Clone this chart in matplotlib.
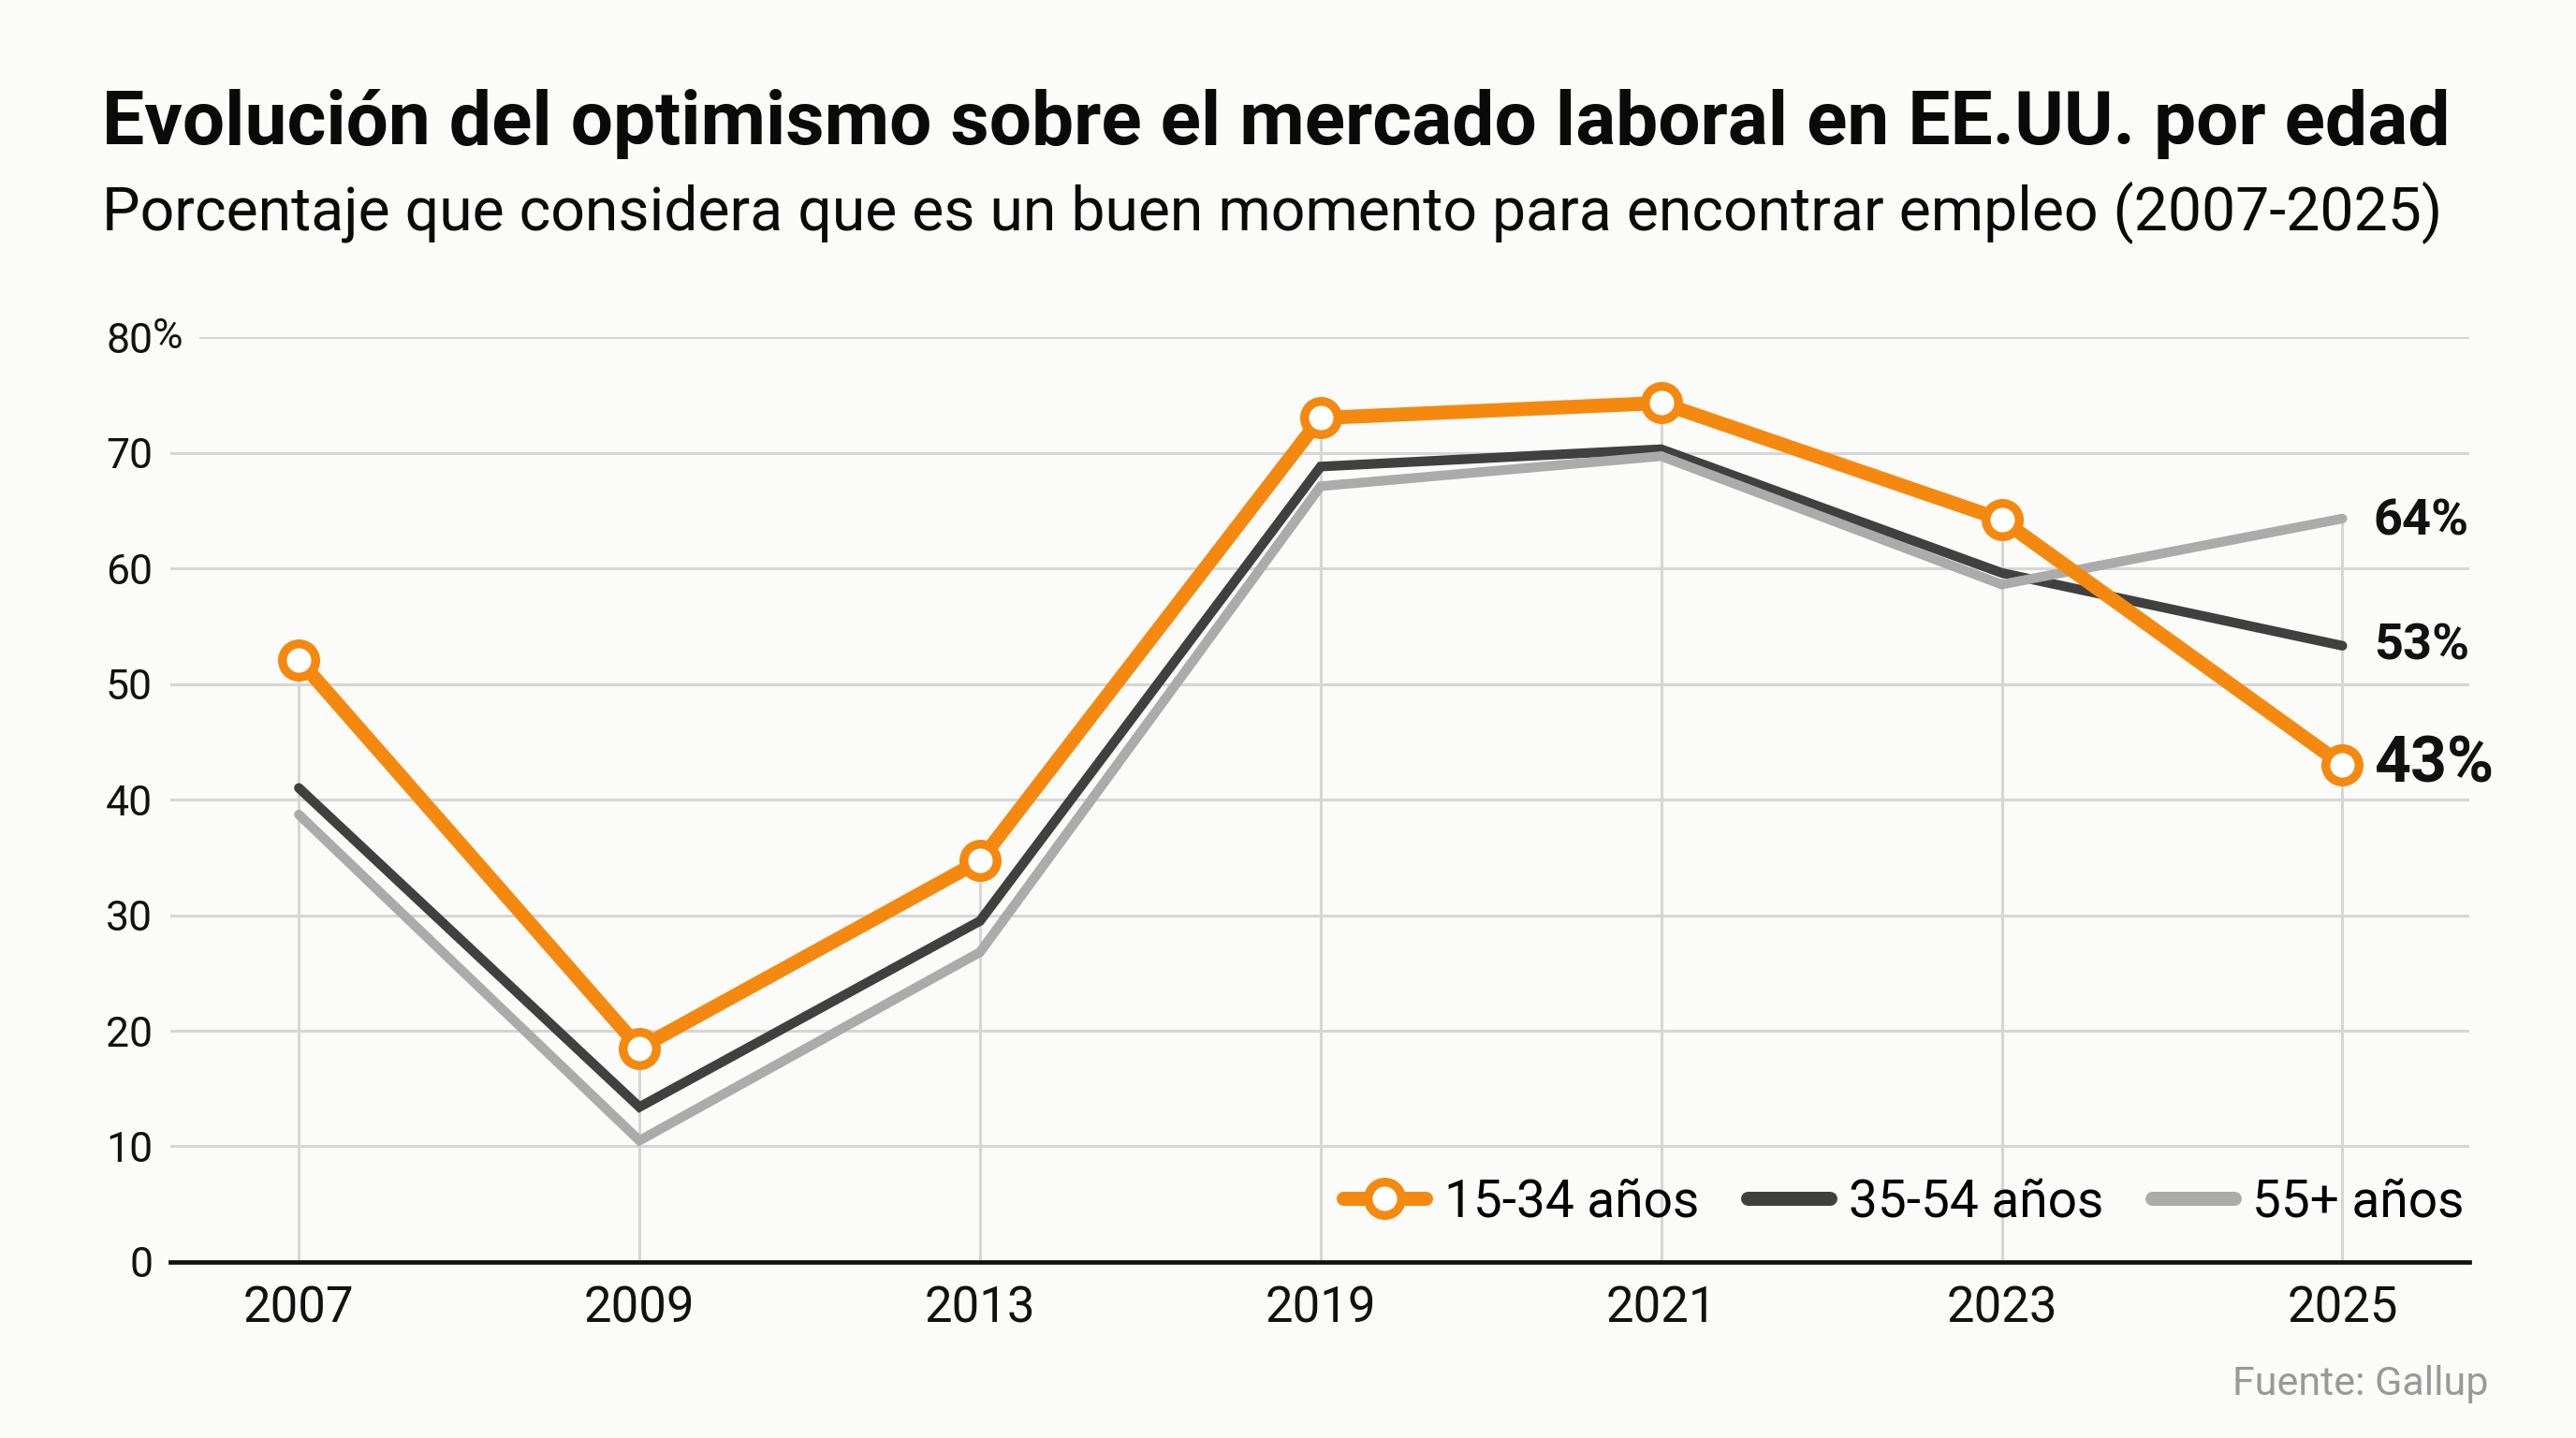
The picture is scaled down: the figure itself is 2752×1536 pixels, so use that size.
import matplotlib
matplotlib.use("Agg")
import matplotlib.pyplot as plt
from matplotlib.lines import Line2D

plt.rcParams['font.family'] = ['Roboto', 'DejaVu Sans']

# datos
years = ["2007", "2009", "2013", "2019", "2021", "2023", "2025"]
young = [52.1, 18.5, 34.7, 73.0, 74.3, 64.2, 43.0]     # 15-34 años
middle = [41.0, 13.4, 29.5, 68.8, 70.3, 59.6, 53.3]    # 35-54 años
older = [38.7, 10.5, 26.8, 67.1, 69.7, 58.6, 64.3]     # 55+ años
end_labels = ["43%", "53%", "64%"]
yticks = [0, 10, 20, 30, 40, 50, 60, 70, 80]

ORANGE = "#f5890f"
DARK = "#404040"
GRAY = "#ababab"
GRID = "#d6d6d6"
BG = "#fbfbf9"

fig = plt.figure(figsize=(13.76, 7.68), dpi=200, facecolor=BG)
ax = fig.add_axes([0.0663, 0.1224, 0.8922, 0.6432], facecolor=BG)

x = list(range(len(years)))

# rejilla horizontal (la de 80 empieza despues de la etiqueta "80%")
for t in yticks[1:]:
    start = 0.013 if t == 80 else 0.0
    ax.axhline(t, xmin=start, xmax=1, color=GRID, lw=1.1, zorder=1)

# lineas verticales hasta el valor mas alto de cada año
tops = [max(a, b, c) for a, b, c in zip(young, middle, older)]
ax.vlines(x, 0, tops, color=GRID, lw=1.1, zorder=1)

ax.plot(x, middle, color=DARK, lw=3.7, solid_capstyle="round",
        solid_joinstyle="miter", zorder=3)
ax.plot(x, older, color=GRAY, lw=3.7, solid_capstyle="round",
        solid_joinstyle="miter", zorder=4)
ax.plot(x, young, color=ORANGE, lw=5.4, solid_capstyle="round",
        solid_joinstyle="round", marker="o", markersize=12.8,
        markerfacecolor="white", markeredgecolor=ORANGE, markeredgewidth=3.4,
        zorder=5, clip_on=False)

ax.set_xlim(-0.376, 6.372)
ax.set_ylim(0, 80)

ax.set_xticks(x)
ax.set_xticklabels(years, fontsize=19, color="#111111")
ax.set_yticks(yticks)
ax.set_yticklabels([str(t) for t in yticks], fontsize=16, color="#111111")
ax.tick_params(axis="both", length=0)
ax.tick_params(axis="x", pad=9)
ax.tick_params(axis="y", pad=7)
# "%" que cuelga detras del 80
ax.annotate("%", (0, 80), xycoords=ax.get_yaxis_transform(),
            xytext=(-7, 0), textcoords="offset points", fontsize=16,
            color="#111111", ha="left", va="center")

for side in ["top", "right", "left"]:
    ax.spines[side].set_visible(False)
ax.spines["bottom"].set_color("#111111")
ax.spines["bottom"].set_linewidth(1.7)
ax.spines["bottom"].set_zorder(6)

# etiquetas finales
ax.annotate(end_labels[0], (x[-1], young[-1]), xytext=(12, 0),
            textcoords="offset points", fontsize=24.5, fontweight="bold",
            ha="left", va="center", color="#111111")
ax.annotate(end_labels[1], (x[-1], middle[-1]), xytext=(12, 0),
            textcoords="offset points", fontsize=19.5, fontweight="bold",
            ha="left", va="center", color="#111111")
ax.annotate(end_labels[2], (x[-1], older[-1]), xytext=(12, -1),
            textcoords="offset points", fontsize=19.5, fontweight="bold",
            ha="left", va="center", color="#111111")

handles = [
    Line2D([], [], color=ORANGE, lw=5.4, solid_capstyle="round", marker="o",
           markersize=12.8, markerfacecolor="white", markeredgecolor=ORANGE,
           markeredgewidth=3.4),
    Line2D([], [], color=DARK, lw=5.4, solid_capstyle="round"),
    Line2D([], [], color=GRAY, lw=5.4, solid_capstyle="round"),
]
leg = ax.legend(handles, ["15-34 años", "35-54 años", "55+ años"],
                loc="lower right", bbox_to_anchor=(1.007, 0.016), ncol=3,
                frameon=False, fontsize=19.8, handlelength=1.6,
                handletextpad=0.35, columnspacing=0.95, borderaxespad=0.0)
leg.set_zorder(7)

fig.text(0.0395, 0.9, "Evolución del optimismo sobre el mercado laboral en EE.UU. por edad",
         fontsize=28.9, fontweight="bold", color="#0a0a0a", ha="left", va="baseline")
fig.text(0.0395, 0.84, "Porcentaje que considera que es un buen momento para encontrar empleo (2007-2025)",
         fontsize=23.2, color="#0a0a0a", ha="left", va="baseline")
fig.text(0.966, 0.03, "Fuente: Gallup", fontsize=15.5, color="#999999",
         ha="right", va="baseline")

fig.savefig("out.png", dpi=200, facecolor=BG)
